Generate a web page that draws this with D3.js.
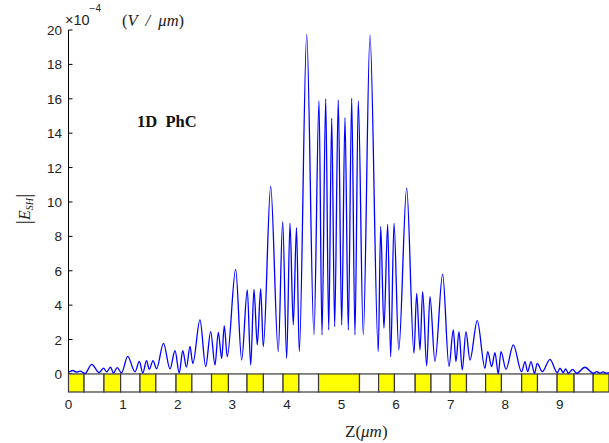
<!DOCTYPE html>
<html>
<head>
<meta charset="utf-8">
<script src="https://cdn.jsdelivr.net/npm/d3@7/dist/d3.min.js"></script>
<style>
  html, body { margin: 0; padding: 0; background: #fff; }
  svg { display: block; }
  text { white-space: pre; }
</style>
</head>
<body>
<div id="chart"></div>
<script>
// |E_SH| field profile along the 1D photonic crystal (units of 1e-4 V/µm)
const zPos = [
  0.000, 0.082, 0.147, 0.211, 0.302, 0.427, 0.559, 0.641, 0.701, 0.769,
  0.824, 0.892, 0.971, 1.084, 1.218, 1.297, 1.361, 1.429, 1.480, 1.548,
  1.612, 1.740, 1.859, 1.951, 2.029, 2.092, 2.161, 2.225, 2.277, 2.408,
  2.513, 2.604, 2.683, 2.744, 2.806, 2.853, 2.908, 3.062, 3.172, 3.275,
  3.337, 3.397, 3.458, 3.520, 3.568, 3.703, 3.842, 3.923, 3.996, 4.057,
  4.117, 4.176, 4.227, 4.363, 4.496, 4.588, 4.643, 4.711, 4.766, 4.821,
  4.875, 4.941, 5.004, 5.064, 5.125, 5.187, 5.247, 5.308, 5.399, 5.522,
  5.674, 5.718, 5.778, 5.846, 5.901, 5.962, 6.049, 6.194, 6.328, 6.377,
  6.438, 6.487, 6.560, 6.621, 6.712, 6.853, 6.969, 7.048, 7.097, 7.152,
  7.212, 7.280, 7.353, 7.487, 7.628, 7.678, 7.751, 7.811, 7.872, 7.921,
  8.013, 8.147, 8.299, 8.361, 8.410, 8.471, 8.535, 8.586, 8.678, 8.819,
  8.952, 9.002, 9.062, 9.106, 9.154, 9.234, 9.308, 9.460, 9.612, 9.674,
  9.734, 9.789, 9.853, 9.900
];
const fieldAmp = [
  0.10, 0.20, 0.10, 0.16, 0.03, 0.56, 0.08, 0.34, 0.12, 0.40,
  0.05, 0.37, 0.06, 1.02, 0.12, 0.73, 0.05, 0.77, 0.27, 0.78,
  0.30, 1.78, 0.30, 1.35, 0.05, 1.35, 0.40, 1.60, 0.60, 3.14,
  0.43, 2.46, 0.52, 2.42, 0.90, 2.80, 1.00, 6.08, 0.81, 4.88,
  0.52, 4.92, 1.69, 4.96, 1.59, 10.90, 1.30, 8.86, 0.90, 8.76,
  2.85, 8.50, 1.30, 19.75, 2.27, 15.87, 2.27, 16.00, 2.56, 14.87,
  2.75, 15.93, 2.85, 14.90, 2.56, 16.03, 2.27, 15.87, 2.27, 19.70,
  1.30, 8.57, 2.65, 8.70, 1.00, 8.76, 1.40, 10.80, 1.20, 4.69,
  1.40, 4.79, 0.47, 4.50, 0.72, 5.81, 0.43, 2.56, 0.72, 2.46,
  0.23, 2.46, 0.81, 3.10, 0.33, 1.30, 0.43, 1.24, 0.02, 1.30,
  0.27, 1.69, 0.13, 0.72, 0.13, 0.72, 0.04, 0.62, 0.13, 0.85,
  0.08, 0.33, 0.08, 0.29, 0.04, 0.27, 0.04, 0.39, 0.04, 0.13,
  0.05, 0.12, 0.04, 0.08
];

// Layer stack: interfaces (µm) and material of each layer (A = high index, B = low index)
const layerEdges = [
  0, 0.285, 0.65, 0.955, 1.31, 1.60, 1.97, 2.26, 2.62, 2.93,
  3.27, 3.57, 3.93, 4.22, 4.58, 5.33, 5.68, 5.97, 6.35, 6.64,
  6.99, 7.29, 7.64, 7.93, 8.30, 8.59, 8.95, 9.26, 9.61, 9.90
];
const layerMaterial = [
  "A","B","A","B","A","B","A","B","A","B","A","B","A","B",
  "A",
  "B","A","B","A","B","A","B","A","B","A","B","A","B","A"
];

const xTicks = [0, 1, 2, 3, 4, 5, 6, 7, 8, 9];
const yTicks = [0, 2, 4, 6, 8, 10, 12, 14, 16, 18, 20];

const W = 609, H = 443;
const svg = d3.select("#chart").append("svg")
  .attr("width", W).attr("height", H);

const x = d3.scaleLinear().domain([0, 9.9]).range([68.5, 609]);
const y = d3.scaleLinear().domain([-1.05, 20]).range([392, 30]);

const tickFont = "'Liberation Sans', Arial, sans-serif";
const serif = "'Liberation Serif', 'Times New Roman', serif";

// x ticks (inward), drawn beneath the layer strip
svg.append("g").selectAll("line").data(xTicks).join("line")
  .attr("x1", d => x(d)).attr("x2", d => x(d))
  .attr("y1", y(-1.05)).attr("y2", y(-1.05) - 5)
  .attr("stroke", "#000").attr("stroke-width", 1);

// y axis line and inward ticks
svg.append("line")
  .attr("x1", x(0)).attr("x2", x(0))
  .attr("y1", y(20)).attr("y2", y(-1.05))
  .attr("stroke", "#000").attr("stroke-width", 1);
svg.append("g").selectAll("line").data(yTicks).join("line")
  .attr("x1", x(0)).attr("x2", x(0) + 4)
  .attr("y1", d => y(d)).attr("y2", d => y(d))
  .attr("stroke", "#000").attr("stroke-width", 1);

// layer strip
const layers = layerMaterial.map((m, i) => ({ m, z0: layerEdges[i], z1: layerEdges[i + 1] }));
svg.append("g").selectAll("rect").data(layers).join("rect")
  .attr("x", d => x(d.z0))
  .attr("width", d => x(d.z1) - x(d.z0))
  .attr("y", y(0))
  .attr("height", y(-1.05) - y(0))
  .attr("fill", d => d.m === "A" ? "#ffff00" : "#ffffff")
  .attr("stroke", "#3a3a3a")
  .attr("stroke-width", 1.2);

// field curve
const pts = zPos.map((z, i) => [z, fieldAmp[i]]);
const line = d3.line()
  .x(d => x(d[0]))
  .y(d => y(d[1]))
  .curve(d3.curveMonotoneX);
svg.append("path")
  .datum(pts)
  .attr("d", line)
  .attr("fill", "none")
  .attr("stroke", "#0000ff")
  .attr("stroke-width", 1.3);

// tick labels
svg.append("g").selectAll("text").data(yTicks).join("text")
  .attr("x", 62).attr("y", d => y(d) + 5)
  .attr("text-anchor", "end")
  .attr("font-family", tickFont).attr("font-size", 13.5)
  .attr("fill", "#222")
  .text(d => d);
svg.append("g").selectAll("text").data(xTicks).join("text")
  .attr("x", d => x(d)).attr("y", 409)
  .attr("text-anchor", "middle")
  .attr("font-family", tickFont).attr("font-size", 13.5)
  .attr("fill", "#222")
  .text(d => d);

// exponent / unit label
const ex = svg.append("text").attr("x", 65).attr("y", 25)
  .attr("font-family", tickFont).attr("font-size", 14.5).attr("fill", "#222");
ex.append("tspan").text("\u00d710");
ex.append("tspan").attr("font-size", 10).attr("dy", -13).text("\u22124");
const unit = svg.append("text").attr("x", 122).attr("y", 26)
  .attr("font-family", serif).attr("font-size", 16.5).attr("fill", "#222");
unit.append("tspan").text("(");
unit.append("tspan").attr("font-style", "italic").text("V  /  \u03bcm");
unit.append("tspan").text(")");

// structure label
svg.append("text").attr("x", 137).attr("y", 127)
  .attr("font-family", serif).attr("font-size", 16.5)
  .attr("font-weight", "bold").attr("fill", "#111")
  .text("1D  PhC");

// y axis title |E_SH|
const yl = svg.append("text")
  .attr("transform", "translate(30,209) rotate(-90)")
  .attr("text-anchor", "middle")
  .attr("font-family", serif).attr("fill", "#222");
yl.append("tspan").attr("font-size", 22).text("|");
yl.append("tspan").attr("font-size", 16).attr("font-style", "italic").text("E");
yl.append("tspan").attr("font-size", 10).attr("font-style", "italic").attr("dy", 3).text("SH");
yl.append("tspan").attr("font-size", 22).attr("dy", -3).text("|");

// x axis title Z(µm)
const xl = svg.append("text").attr("x", 345).attr("y", 437)
  .attr("font-family", serif).attr("font-size", 17).attr("fill", "#222");
xl.append("tspan").text("Z");
xl.append("tspan").text("(");
xl.append("tspan").attr("font-style", "italic").text("\u03bcm");
xl.append("tspan").text(")");
</script>
</body>
</html>
